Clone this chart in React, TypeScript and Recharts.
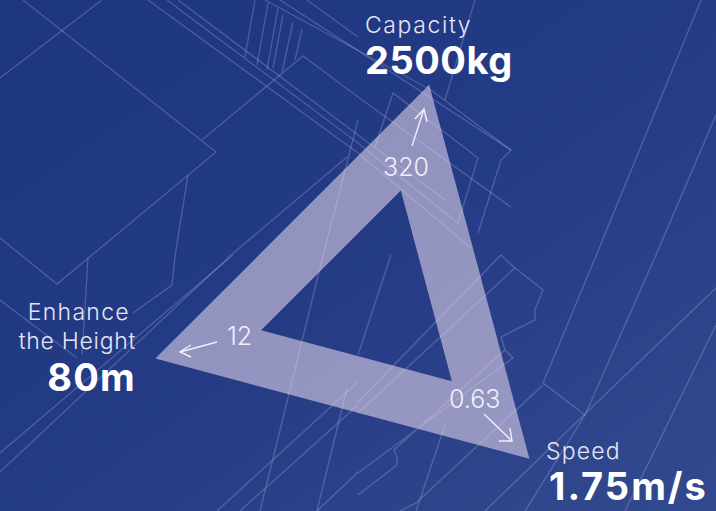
import React from "react";
import { RadarChart, Radar, PolarAngleAxis, PolarRadiusAxis } from "recharts";

const WIDTH = 716;
const HEIGHT = 511;

const axisNames = ["Capacity", "Speed", "Enhance the Height"];
const bandInner = [51, 51, 51];
const bandOuter = [100, 100, 100];

const chartData = axisNames.map((name, i) => ({
  name,
  band: [bandInner[i], bandOuter[i]],
}));

// blueprint drawing behind the chart
const blueprintLines = [
  "23,0 216,152 57,284 0,238",
  "102,0 0,78",
  "202,140 303,56 358,97 511,207",
  "188,175 175,256 172,285 133,313",
  "88,258 82,355",
  "0,300 77,358",
  "148,0 358,153 471,248",
  "167,0 358,143 458,223 478,158 393,93 375,147",
  "178,0 358,135 445,200",
  "265,0 431,90 511,150 501,160 478,233",
  "280,0 511,150",
  "307,0 358,37",
  "255,0 245,57",
  "268,3 257,65",
  "278,8 267,70",
  "283,15 273,68",
  "293,22 282,72",
  "302,29 295,60",
  "475,0 445,100",
  "701,0 596,256 543,383 585,415",
  "543,385 416,503 400,511",
  "716,115 656,255 585,415 525,511",
  "716,288 586,413 485,511",
  "716,325 625,511",
  "347,157 230,256 0,472",
  "233,255 0,453",
  "358,120 323,256 260,511",
  "358,382 217,511",
  "358,405 240,511",
  "358,472 317,511",
  "347,388 317,511",
  "358,413 515,268 543,290 535,310 535,320 501,337",
  "358,402 501,255",
  "358,473 513,358 505,350 394,450 397,457",
  "358,495 397,465 397,457",
  "391,255 358,355",
  "445,425 416,511",
  "501,255 515,268",
  "501,337 505,350",
];

const arrows = [
  { from: [412, 146], to: [424, 109], head: "415,119 424,109 427,122" },
  { from: [217, 342], to: [180, 352], head: "191,345 180,352 191,357" },
  { from: [484, 414], to: [512, 441], head: "499,441 512,441 510,428" },
];

const FONT = "Inter, 'Open Sans', sans-serif";
const layer: React.CSSProperties = { position: "absolute", left: 0, top: 0 };

export default function App() {
  return (
    <div
      style={{
        position: "relative",
        width: WIDTH,
        height: HEIGHT,
        overflow: "hidden",
        background: "linear-gradient(145deg, #1e3580 0%, #233a84 45%, #33498f 100%)",
      }}
    >
      <style>{"html, body { margin: 0; padding: 0; }"}</style>
      <svg width={WIDTH} height={HEIGHT} style={layer}>
        {blueprintLines.map((points, i) => (
          <polyline key={i} points={points} fill="none" stroke="#c4c4ec" strokeOpacity={0.26} strokeWidth={1.4} />
        ))}
      </svg>

      <div style={layer}>
        <RadarChart
          width={WIDTH}
          height={HEIGHT}
          data={chartData}
          cx={371.3}
          cy={300.7}
          outerRadius={223.6}
          startAngle={75}
          endAngle={-285}
          margin={{ top: 0, right: 0, bottom: 0, left: 0 }}
        >
          <PolarAngleAxis dataKey="name" tick={false} axisLine={false} tickLine={false} />
          <PolarRadiusAxis domain={[0, 100]} tick={false} axisLine={false} tickLine={false} />
          <Radar dataKey="band" fill="#eedcf1" fillOpacity={0.55} stroke="none" isAnimationActive={false} />
        </RadarChart>
      </div>

      <svg width={WIDTH} height={HEIGHT} style={{ ...layer, fontFamily: FONT }}>
        <g fill="#e6e6f4" fontSize={23} fontWeight={300}>
          <text x={365} y={33} letterSpacing={1.6}>Capacity</text>
          <text x={130} y={320} textAnchor="end" letterSpacing={1.3}>Enhance</text>
          <text x={136} y={349} textAnchor="end" letterSpacing={0.7}>the Height</text>
          <text x={546} y={459} letterSpacing={1.2}>Speed</text>
        </g>
        <g fill="#ffffff" fontSize={38} fontWeight={700}>
          <text x={365} y={74} letterSpacing={0.5}>2500kg</text>
          <text x={136} y={391} textAnchor="end" letterSpacing={1.2}>80m</text>
          <text x={549} y={500} letterSpacing={2}>1.75m/s</text>
        </g>
        <g fill="#f0f0fa" fontSize={25} fontWeight={300}>
          <text x={383} y={176}>320</text>
          <text x={227} y={345}>12</text>
          <text x={449} y={408}>0.63</text>
        </g>
        {arrows.map((a, i) => (
          <g key={i} fill="none" stroke="#f0f0fa" strokeWidth={1.4}>
            <line x1={a.from[0]} y1={a.from[1]} x2={a.to[0]} y2={a.to[1]} />
            <polyline points={a.head} />
          </g>
        ))}
      </svg>
    </div>
  );
}
